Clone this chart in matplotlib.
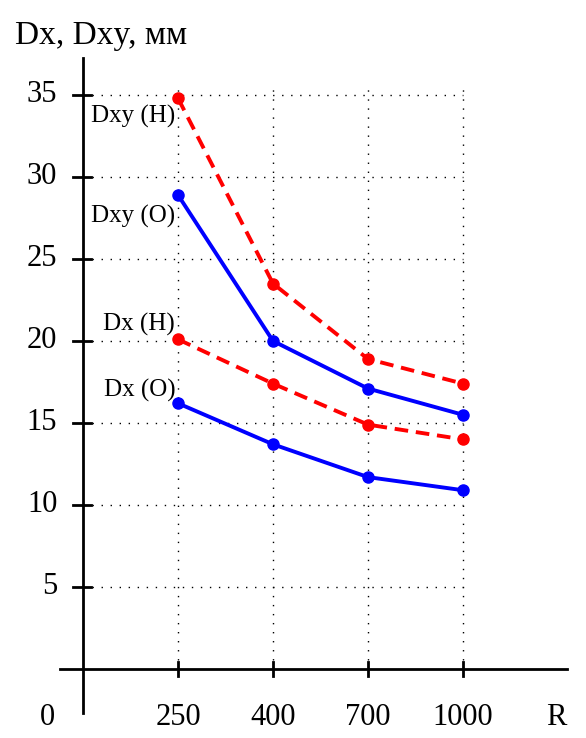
import matplotlib
matplotlib.use("Agg")
import matplotlib.pyplot as plt

# radius categories and measured displacements, mm
radii = ["250", "400", "700", "1000"]
dxy_h = [34.8, 23.5, 18.9, 17.4]
dxy_o = [28.9, 20.0, 17.1, 15.5]
dx_h = [20.1, 17.4, 14.9, 14.0]
dx_o = [16.2, 13.7, 11.7, 10.9]
y_ticks = [5, 10, 15, 20, 25, 30, 35]

series = [
    (dxy_h, "Dxy (H)", "red", "--"),
    (dxy_o, "Dxy (O)", "blue", "-"),
    (dx_h, "Dx (H)", "red", "--"),
    (dx_o, "Dx (O)", "blue", "-"),
]
label_y = [33.7, 27.6, 21.0, 17.0]

plt.rcParams["font.family"] = ["Liberation Serif", "DejaVu Serif"]

fig = plt.figure(figsize=(5.86, 7.38), dpi=100)
ax = fig.add_axes([0, 0, 1, 1])
ax.set_xlim(-0.874, 5.295)
ax.set_ylim(-4.207, 40.79)
ax.axis("off")

xs = list(range(1, len(radii) + 1))

# dotted grid
for v in y_ticks:
    ax.plot([0, xs[-1]], [v, v], color="black", lw=1.0, ls=(0, (1, 5.5)))
for x in xs:
    ax.plot([x, x], [0, 35.4], color="black", lw=1.0, ls=(0, (1, 5.5)))

# axes lines
ax.plot([0, 0], [-2.68, 37.26], color="black", lw=2.0)
ax.plot([-0.24, 5.1], [0, 0], color="black", lw=2.0)
for v in y_ticks:
    ax.plot([-0.11, 0.08], [v, v], color="black", lw=2.0)
    ax.text(-0.27, v, str(v), ha="right", va="center", fontsize=22)
for x, r in zip(xs, radii):
    ax.plot([x, x], [-0.43, 0.43], color="black", lw=2.0)
    ax.text(x, -2.95, r, ha="center", va="center", fontsize=22)
ax.text(-0.37, -2.95, "0", ha="center", va="center", fontsize=22)
ax.text(4.98, -2.95, "R", ha="center", va="center", fontsize=22)
ax.text(-0.72, 38.6, "Dx, Dxy, мм", ha="left", va="center", fontsize=24)

for (vals, name, col, ls), ly in zip(series, label_y):
    ax.plot(xs, vals, color=col, ls=ls, lw=2.8, marker="o", ms=8,
            dashes=(3.5, 2) if ls == "--" else (None, None))
    ax.text(0.97, ly, name, ha="right", va="center", fontsize=18)

fig.savefig("out.png", dpi=100)
